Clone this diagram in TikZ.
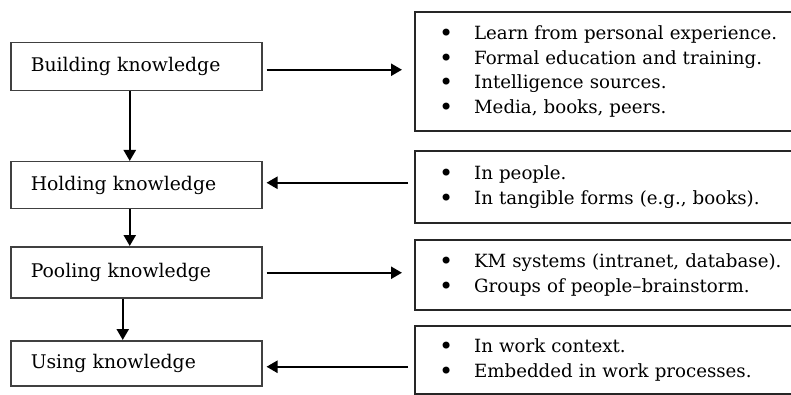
\documentclass[tikz,border=0pt]{standalone}
\usepackage{fontspec}
\setmainfont{DejaVu Serif}
\usetikzlibrary{arrows.meta}
\tikzset{
  leftbox/.style={draw=black!75, line width=1.5pt, anchor=north west, inner xsep=20pt, inner ysep=0pt,
    minimum width=251pt, text width=211pt, align=left, font=\fontsize{18.8}{22}\selectfont},
  rightbox/.style={draw=black!85, line width=2.2pt, anchor=north west, inner xsep=24pt, inner ysep=0pt,
    minimum width=386pt, text width=400pt, align=left, font=\fontsize{18.2}{24.5}\selectfont},
  arr/.style={line width=2.3pt, -{Triangle[length=11pt,width=12pt]}},
}
\newcommand{\bul}{\makebox[35pt][l]{\smash{\raisebox{-2pt}{\fontsize{24}{24}\selectfont\textbullet}}}}
\begin{document}
\begin{tikzpicture}[x=1pt,y=-1pt]
\useasboundingbox (0,0) rectangle (791,395);
\node[leftbox, minimum height=48pt] (build) at (10,42) {Building knowledge};
\node[leftbox, minimum height=47pt] (hold) at (10,161) {Holding knowledge};
\node[leftbox, minimum height=51pt] (pool) at (10,246) {Pooling knowledge};
\node[leftbox, minimum height=45pt] (use) at (10,340) {Using knowledge};

\node[rightbox, minimum height=119pt] (r1) at (414,11) {\bul Learn from personal experience.\\\bul Formal education and training.\\\bul Intelligence sources.\\\bul Media, books, peers.};
\node[rightbox, minimum height=72pt] (r2) at (414,150) {\bul In people.\\\bul In tangible forms (e.g., books).};
\node[rightbox, minimum height=70pt] (r3) at (414,239) {\bul KM systems (intranet, database).\\\bul Groups of people--brainstorm.};
\node[rightbox, minimum height=68pt] (r4) at (414,325) {\bul In work context.\\\bul Embedded in work processes.};

\draw[arr, shorten <=4pt, shorten >=12pt] ([yshift=-3pt]build.east) -- ([yshift=-3pt]build.east -| r1.west);
\draw[arr, shorten <=6pt, shorten >=4pt] ([yshift=2.5pt]hold.east -| r2.west) -- ([yshift=2.5pt]hold.east);
\draw[arr, shorten <=4pt, shorten >=12pt] ([yshift=-0.5pt]pool.east) -- ([yshift=-0.5pt]pool.east -| r3.west);
\draw[arr, shorten <=6pt, shorten >=4pt] ([yshift=-3.5pt]use.east -| r4.west) -- ([yshift=-3.5pt]use.east);

\draw[arr] ([xshift=-6.5pt]build.south) -- ([xshift=-6.5pt]hold.north);
\draw[arr] ([xshift=-6.5pt]hold.south) -- ([xshift=-6.5pt]pool.north);
\draw[arr] ([xshift=-13.5pt]pool.south) -- ([xshift=-13.5pt]use.north);
\end{tikzpicture}
\end{document}
